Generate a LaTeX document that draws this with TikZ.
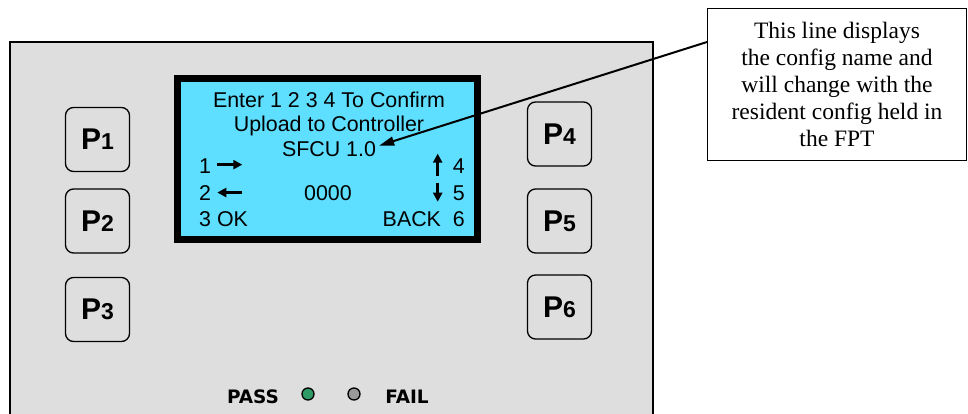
\documentclass[tikz,border=0pt]{standalone}
\usepackage{fontspec}
\setmainfont{Liberation Serif}
\newfontfamily\lcdfont{Liberation Sans}
\newfontfamily\ledfont{DejaVu Sans}
\usetikzlibrary{arrows.meta}
\definecolor{panelgrey}{HTML}{DEDEDE}
\definecolor{lcdblue}{HTML}{5EDFFF}
\definecolor{passgreen}{HTML}{2E9A66}
\definecolor{failgrey}{HTML}{999999}
\tikzstyle{keybox} = [rectangle, rounded corners=8pt, minimum width=64pt, minimum height=64pt,
inner sep=0pt, draw=black, line width=1.3pt]
\tikzstyle{lcd} = [rectangle, minimum width=300pt, minimum height=161pt, draw=black,
line width=7pt, fill=lcdblue]
\tikzstyle{lcdtext} = [font=\lcdfont\fontsize{21.4}{24}\selectfont, inner sep=0pt]
\tikzstyle{keyarrow} = [line width=2.7pt, -{Triangle[length=9pt,width=9pt]}]
\tikzstyle{note} = [rectangle, minimum width=258.7pt, minimum height=151.7pt, align=center,
draw=black, line width=1.3pt, fill=white, font=\fontsize{23.5}{27.2}\selectfont]
\tikzstyle{pointer} = [line width=2pt, -{Triangle[length=15pt,width=9pt]}]
\tikzstyle{led} = [circle, minimum size=12pt, inner sep=0pt, draw=black, line width=1.3pt]
\tikzstyle{ledlabel} = [font=\ledfont\bfseries\fontsize{18.5}{18.5}\selectfont, inner sep=0pt]
\newcommand{\keylabel}[1]{\lcdfont\bfseries{\fontsize{30}{30}\selectfont P}{\fontsize{23}{23}\selectfont #1}}

\begin{document}
\begin{tikzpicture}[x=1pt,y=-1pt]
        \useasboundingbox (0,0) rectangle (968,413);
        \clip (0,0) rectangle (968,413);

        % front panel
        \draw[fill=panelgrey, line width=2pt] (10,42) rectangle (653,440);

        % display
        \draw (327.5,159) node[lcd] (screen) {};
        \draw (329,107) node[lcdtext, anchor=base] (line1) {Enter 1 2 3 4 To Confirm};
        \draw (329,131) node[lcdtext, anchor=base] (line2) {Upload to Controller};
        \draw (329,156) node[lcdtext, anchor=base] (line3) {SFCU 1.0};

        \draw (199,173) node[lcdtext, anchor=base west] (k1) {1};
        \draw (199,200) node[lcdtext, anchor=base west] (k2) {2};
        \draw (199,226) node[lcdtext, anchor=base west] (k3) {3 OK};
        \draw (465,173) node[lcdtext, anchor=base east] (k4) {4};
        \draw (465,200) node[lcdtext, anchor=base east] (k5) {5};
        \draw (465,226) node[lcdtext, anchor=base east] (k6) {BACK~~6};
        \draw (328,200) node[lcdtext, anchor=base] (count) {0000};

        \draw[keyarrow] ([xshift=6pt,yshift=1pt]k1.east) -- ++(25,0);
        \draw[keyarrow] ([xshift=31pt]k2.east) -- ++(-25,0);
        \draw[keyarrow] ([xshift=-15pt,yshift=-10pt]k4.west) -- ++(0,-22);
        \draw[keyarrow] ([xshift=-15pt,yshift=10pt]k5.west) -- ++(0,19);

        % push buttons
        \draw (97.5,139.5) node[keybox] (p1) {\keylabel{1}};
        \draw (97.5,221) node[keybox] (p2) {\keylabel{2}};
        \draw (97.5,309.5) node[keybox] (p3) {\keylabel{3}};
        \draw (559.5,134) node[keybox] (p4) {\keylabel{4}};
        \draw (559.5,221) node[keybox] (p5) {\keylabel{5}};
        \draw (559.5,307) node[keybox] (p6) {\keylabel{6}};

        % status leds
        \draw (253,397) node[ledlabel] (pass) {PASS};
        \draw (308,394) node[led, fill=passgreen] (passled) {};
        \draw (354,394) node[led, fill=failgrey] (failled) {};
        \draw (407,397) node[ledlabel] (fail) {FAIL};

        % callout
        \draw (837,84.5) node[note] (info) {This line displays\\the config name and\\will change with the\\resident config held in\\the FPT};
        \draw[pointer] ([yshift=42.5pt]info.west) -- ([xshift=3pt,yshift=3pt]line3.east);
\end{tikzpicture}
\end{document}
